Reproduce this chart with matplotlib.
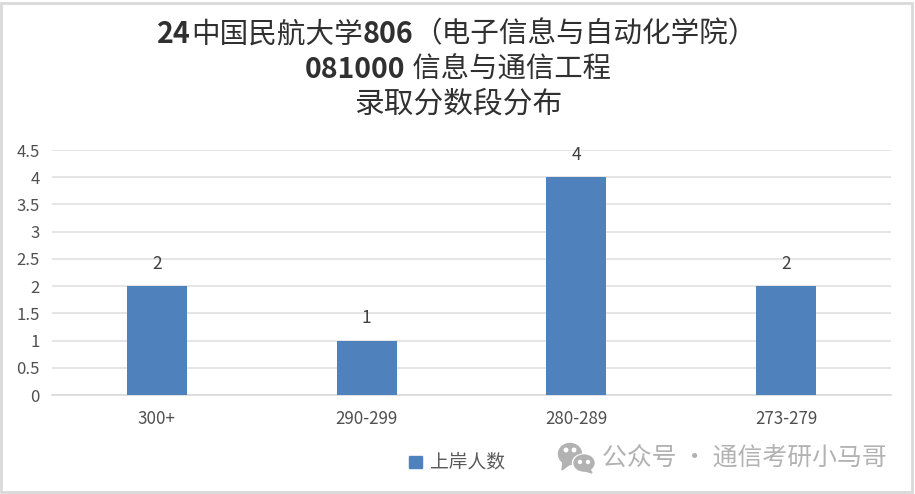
import matplotlib
matplotlib.use('Agg')
from matplotlib import pyplot as plt
from matplotlib.patches import Rectangle, Ellipse, Polygon

plt.rcParams['font.family'] = ['Noto Sans CJK SC', 'DejaVu Sans']

#Chart values
categories = ['300+', '290-299', '280-289', '273-279']
counts = [2, 1, 4, 2]
yticks = [0, 0.5, 1, 1.5, 2, 2.5, 3, 3.5, 4, 4.5]
ylabels = ['0', '0.5', '1', '1.5', '2', '2.5', '3', '3.5', '4', '4.5']
series_name = '上岸人数'
#Title pieces as (text, bold)
title_lines = [
    [('24', True), ('中国民航大学', False), ('806', True), ('（电子信息与自动化学院）', False)],
    [('081000', True), (' 信息与通信工程', False)],
    [('录取分数段分布', False)],
]
watermark = '公众号 · 通信考研小马哥'

W, H = 915, 494
fig = plt.figure(figsize=(W / 100, H / 100), dpi=100, facecolor='white')

#Plot area in pixels
left, right, top, bottom = 52, 891, 150, 395
ax = fig.add_axes([left / W, 1 - bottom / H, (right - left) / W, (bottom - top) / H])

x = range(len(categories))
ax.bar(x, counts, width=0.287, color='#4f81bd', zorder=3)
ax.set_xlim(-0.5, 3.5)
ax.set_ylim(0, 4.5)
ax.set_yticks(yticks)
ax.set_yticklabels(ylabels, fontsize=12, color='#505050')
ax.set_xticks(list(x))
ax.set_xticklabels(categories, fontsize=12.2, color='#505050')
ax.tick_params(axis='both', length=0)
ax.tick_params(axis='x', pad=10.5)
ax.tick_params(axis='y', pad=9)
ax.grid(axis='y', color='#e0e0e0', linewidth=1.2, zorder=0)
for side in ['top', 'left', 'right']:
    ax.spines[side].set_visible(False)
ax.spines['bottom'].set_color('#d9d9d9')
ax.spines['bottom'].set_linewidth(1.2)

#Value labels above the bars
for i, v in zip(x, counts):
    ax.annotate(str(v), (i, v), xytext=(0, 9.5), textcoords='offset points',
                ha='center', va='bottom', fontsize=12.5, color='#404040')

#Title, pieces placed one after the other so the numbers can be bold
title_y = [34, 70, 104]
title_x = [453, 457, 457]
title_size = [20.6, 20.4, 21.4]
renderer = fig.canvas.get_renderer()
for pieces, tx, ty, ts in zip(title_lines, title_x, title_y, title_size):
    parts = []
    for text, bold in pieces:
        parts.append(fig.text(0, 1 - ty / H, text, ha='left', va='center', fontsize=ts,
                              color='#303030', fontweight='bold' if bold else 'normal'))
    widths = [p.get_window_extent(renderer).width for p in parts]
    pos = tx - sum(widths) / 2 + (4 if len(pieces) == 4 else 1)
    for p, w in zip(parts, widths):
        p.set_x(pos / W)
        pos += w

#Legend
fig.add_artist(Rectangle((409 / W, 1 - 468 / H), 13 / W, 12 / H, transform=fig.transFigure,
                         color='#4f81bd'))
fig.text(430 / W, 1 - 462 / H, series_name, ha='left', va='center', fontsize=13.5, color='#595959')

#Watermark with its chat bubbles icon
gray = '#b2b2b2'
def px_ellipse(cx, cy, w, h, color):
    fig.add_artist(Ellipse((cx / W, 1 - cy / H), w / W, h / H, transform=fig.transFigure,
                           color=color, zorder=5))

px_ellipse(570, 454, 23, 21, gray)
fig.add_artist(Polygon([(563 / W, 1 - 461 / H), (562 / W, 1 - 470 / H), (570 / W, 1 - 464 / H)],
                       transform=fig.transFigure, color=gray, zorder=5))
px_ellipse(584, 463, 23, 18, 'white')
px_ellipse(584, 463, 20, 16, gray)
fig.add_artist(Polygon([(589 / W, 1 - 468 / H), (592 / W, 1 - 473 / H), (582 / W, 1 - 470 / H)],
                       transform=fig.transFigure, color=gray, zorder=5))
for ex, ey, es in [(566, 450, 3.5), (574, 450, 3.5), (580, 462, 3), (588, 462, 3)]:
    px_ellipse(ex, ey, es, es, 'white')
fig.text(602 / W, 1 - 458 / H, watermark, ha='left', va='center', fontsize=17.9, color=gray)

#Outer border
fig.add_artist(Rectangle((1 / W, 2 / H), 911 / W, 489 / H, transform=fig.transFigure,
                         fill=False, edgecolor='#d9d9d9', linewidth=2))

fig.savefig('out.png', dpi=100)
